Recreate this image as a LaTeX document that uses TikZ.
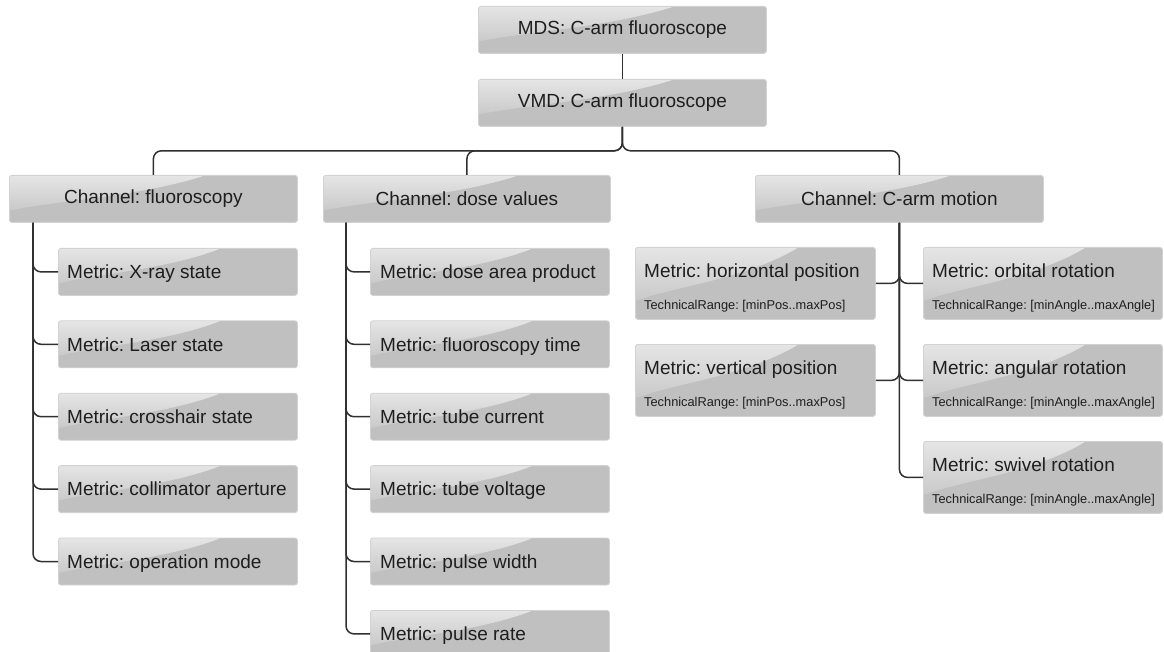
\documentclass[tikz,border=0pt]{standalone}
\usepackage{fontspec}
\setmainfont{Liberation Sans}
\usetikzlibrary{calc,fadings}
\definecolor{boxfill}{HTML}{C0C0C0}
\definecolor{boxline}{HTML}{D2D2D2}
\definecolor{conn}{HTML}{303030}
\definecolor{txt}{HTML}{1E1E1E}
\begin{document}
\frenchspacing
\begin{tikzpicture}[x=1pt,y=-1pt,
  gloss/.style={path picture={
    \fill[white, fill opacity=0.6, path fading=south]
      let \p1=(path picture bounding box.north west), \p2=(path picture bounding box.south east) in
      (\x1,\y1) -- ({\x1+0.68*(\x2-\x1)},\y1)
      .. controls ({\x1+0.45*(\x2-\x1)},{\y1+0.45*(\y2-\y1)}) and ({\x1+0.15*(\x2-\x1)},{\y1+0.55*(\y2-\y1)}) .. (\x1,{\y1+0.75*(\y2-\y1)}) -- cycle;
  }},
  box/.style={draw=boxline, line width=0.8pt, fill=boxfill, rounded corners=2.5pt,
    inner sep=0pt, anchor=north west, gloss, text=txt, font=\fontsize{19}{22}\selectfont},
  chbox/.style={box, minimum height=47pt, minimum width=288pt},
  mbox/.style={box, minimum height=47pt, minimum width=239pt},
  cbox/.style={box, minimum height=72pt, minimum width=239pt},
  ttl/.style={anchor=base west, inner sep=0pt, text=txt, font=\fontsize{19}{22}\selectfont},
  rng/.style={anchor=base west, inner sep=0pt, text=txt, font=\fontsize{12.8}{15}\selectfont},
  conn/.style={draw=conn, line width=1.5pt, rounded corners=8pt}
]
\useasboundingbox (0,0) rectangle (1164,652);

% top
\node[chbox] (mds) at (478,6) {MDS: C-arm fluoroscope};
\node[chbox] (vmd) at (478,79) {VMD: C-arm fluoroscope};

% channels
\node[chbox] (fluo) at (9,175) {Channel: fluoroscopy};
\node[chbox, minimum width=287pt] (dose) at (323,175) {Channel: dose values};
\node[chbox] (carm) at (755,175) {Channel: C-arm motion};

% fluoroscopy metrics
\node[mbox] (f1) at (58,248) {};
\node[ttl] (f1t) at ($(f1.west)+(9,6.8)$) {Metric: X-ray state};
\node[mbox] (f2) at (58,320.4) {};
\node[ttl] (f2t) at ($(f2.west)+(9,6.8)$) {Metric: Laser state};
\node[mbox] (f3) at (58,392.8) {};
\node[ttl] (f3t) at ($(f3.west)+(9,6.8)$) {Metric: crosshair state};
\node[mbox] (f4) at (58,465.2) {};
\node[ttl] (f4t) at ($(f4.west)+(9,6.8)$) {Metric: collimator aperture};
\node[mbox] (f5) at (58,537.6) {};
\node[ttl] (f5t) at ($(f5.west)+(9,6.8)$) {Metric: operation mode};

% dose metrics
\node[mbox] (d1) at (370,248) {};
\node[ttl] (d1t) at ($(d1.west)+(10,6.8)$) {Metric: dose area product};
\node[mbox] (d2) at (370,320.4) {};
\node[ttl] (d2t) at ($(d2.west)+(10,6.8)$) {Metric: fluoroscopy time};
\node[mbox] (d3) at (370,392.8) {};
\node[ttl] (d3t) at ($(d3.west)+(10,6.8)$) {Metric: tube current};
\node[mbox] (d4) at (370,465.2) {};
\node[ttl] (d4t) at ($(d4.west)+(10,6.8)$) {Metric: tube voltage};
\node[mbox] (d5) at (370,537.6) {};
\node[ttl] (d5t) at ($(d5.west)+(10,6.8)$) {Metric: pulse width};
\node[mbox] (d6) at (370,610) {};
\node[ttl] (d6t) at ($(d6.west)+(10,6.8)$) {Metric: pulse rate};

% C-arm metrics
\node[cbox, minimum width=240pt] (hp) at (635,247) {};
\node[ttl] (hpt) at ($(hp.north west)+(9,30)$) {Metric: horizontal position};
\node[rng] (hpr) at ($(hp.north west)+(9,62.5)$) {TechnicalRange: [minPos..maxPos]};

\node[cbox, minimum width=240pt] (vp) at (635,344) {};
\node[ttl] (vpt) at ($(vp.north west)+(9,30)$) {Metric: vertical position};
\node[rng] (vpr) at ($(vp.north west)+(9,62.5)$) {TechnicalRange: [minPos..maxPos]};

\node[cbox] (orb) at (923,247) {};
\node[ttl] (orbt) at ($(orb.north west)+(9,30)$) {Metric: orbital rotation};
\node[rng] (orbr) at ($(orb.north west)+(9,62.5)$) {TechnicalRange: [minAngle..maxAngle]};

\node[cbox] (ang) at (923,344) {};
\node[ttl] (angt) at ($(ang.north west)+(9,30)$) {Metric: angular rotation};
\node[rng] (angr) at ($(ang.north west)+(9,62.5)$) {TechnicalRange: [minAngle..maxAngle]};

\node[cbox] (swv) at (923,441) {};
\node[ttl] (swvt) at ($(swv.north west)+(9,30)$) {Metric: swivel rotation};
\node[rng] (swvr) at ($(swv.north west)+(9,62.5)$) {TechnicalRange: [minAngle..maxAngle]};

% connectors
\draw[conn] (mds.south) -- (vmd.north);
\draw[conn] (vmd.south) -- ++(0,24) -| (fluo.north);
\draw[conn] (vmd.south) -- ++(0,24) -| (dose.north);
\draw[conn] (vmd.south) -- ++(0,24) -| (carm.north);

\foreach \m in {f1,f2,f3,f4,f5}
  \draw[conn] ($(fluo.south west)+(24,0)$) |- (\m.west);
\foreach \m in {d1,d2,d3,d4,d5,d6}
  \draw[conn] ($(dose.south west)+(23,0)$) |- (\m.west);
\foreach \m in {hp,vp}
  \draw[conn] (carm.south) |- (\m.east);
\foreach \m in {orb,ang,swv}
  \draw[conn] (carm.south) |- (\m.west);
\end{tikzpicture}
\end{document}
